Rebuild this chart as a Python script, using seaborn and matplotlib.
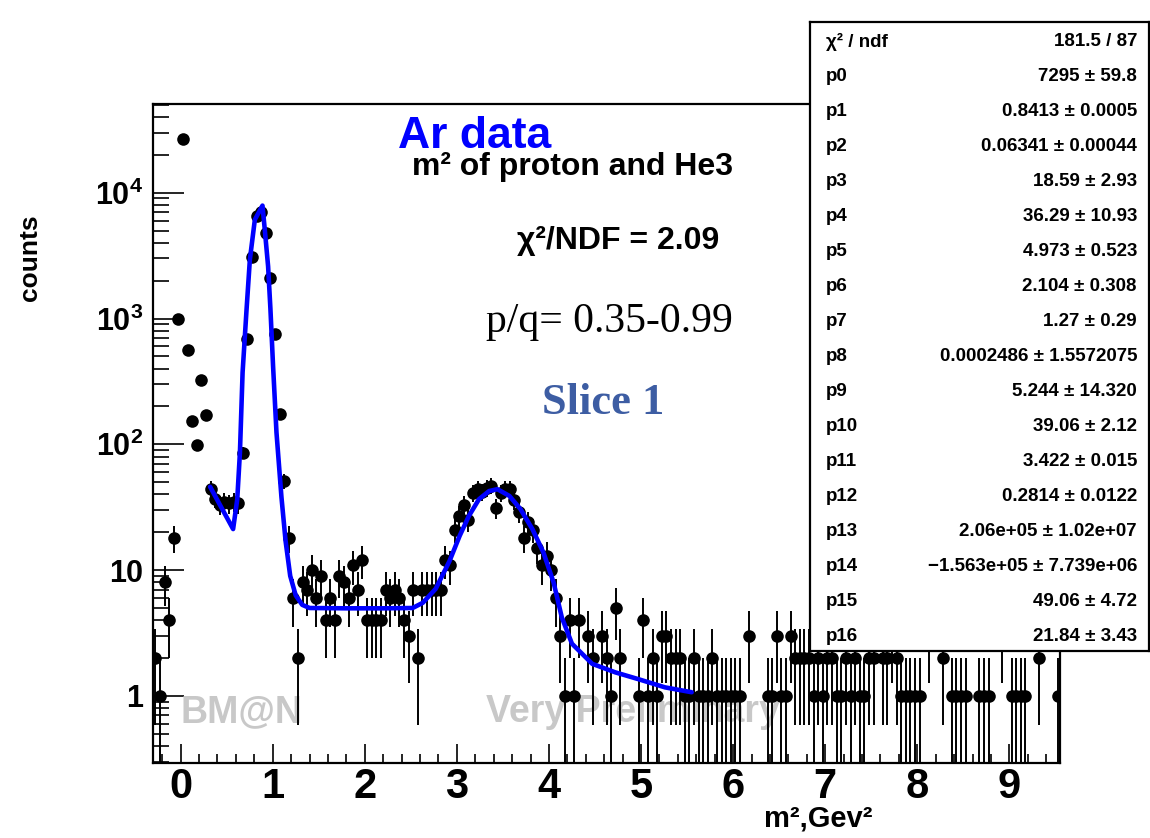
import numpy as np
import pandas as pd
import matplotlib
matplotlib.use("Agg")
import matplotlib.pyplot as plt
import seaborn as sns
from matplotlib.ticker import FixedLocator, FixedFormatter, NullFormatter

# ---------------- data ----------------
bin_start = -0.3
bin_width = 0.05
# counts per 0.05-wide bin (region by region)
counts_pion = [2, 1, 8, 4, 18, 1000, 26700, 557, 152, 98, 322, 170]           # -0.3 .. 0.3
counts_gap = [44, 37, 33, 35, 34, 35, 34]                                       # 0.3 .. 0.65
counts_proton = [86, 681, 3100, 6500, 6960, 4800, 2110, 750, 173, 51, 18, 6, 2]  # 0.65 .. 1.3
counts_mid = [8, 7, 10, 6, 9, 4, 6, 4, 9, 8, 6, 11, 7, 12, 4, 4, 4, 4, 7, 6,
              7, 6, 4, 3, 7, 2, 7, 7, 7, 7, 7, 12, 11, 21]                      # 1.3 .. 3.0
counts_he3 = [27, 33, 25, 41, 44, 42, 45, 47, 31, 41, 44, 44, 36, 29, 18, 24, 21, 15, 11, 13,
              10, 6, 3, 1, 4, 1, 4, 0, 3, 2]                                    # 3.0 .. 4.5
counts_tail = [0, 3, 2, 1, 5, 2, 0, 0, 0, 1, 4, 1, 2, 1, 3, 3, 2, 2, 2, 1,
               1, 2, 1, 1, 1, 2, 1, 1, 1, 1, 1, 1, 0, 3, 0, 0, 0, 1, 1, 3,
               1, 1, 3, 2, 2, 2, 2, 1, 2]                                       # 4.5 .. 6.95
counts_high = [1, 2, 2, 1, 1, 2, 1, 2, 1, 1, 2, 2, 0, 2, 2, 3, 2, 1, 1, 1,
               1, 1, 0, 3, 0, 0, 2, 0, 1, 1, 1, 1, 0, 0, 1, 1, 1, 0, 0, 3,
               0, 1, 1, 1, 1, 0, 0, 2, 0, 0, 0, 1]                              # 6.95 .. 9.55

# fitted curve
fit_x = [0.32, 0.57, 0.615, 0.644, 0.673, 0.716, 0.752, 0.806, 0.889, 0.914, 0.95, 0.975,
         1.004, 1.041, 1.095, 1.14, 1.19, 1.25, 1.32, 1.40, 1.8, 2.2, 2.52, 2.63, 2.77,
         2.92, 3.03, 3.13, 3.24, 3.35, 3.44, 3.57, 3.69, 3.82, 3.94, 4.05, 4.14, 4.25,
         4.47, 4.72, 4.97, 5.26, 5.55]
fit_y = [46, 21.2, 36.6, 86, 373, 1180, 2940, 6100, 7900, 5080, 2600, 1200,
         418, 124, 38, 17, 9, 6.3, 5.3, 5.0, 4.97, 4.97, 5.0, 5.5, 7.1,
         11.8, 18.7, 26.9, 36.6, 42.5, 44, 38.9, 30.6, 21.2, 13.8, 8.0, 4.2, 2.6,
         1.8, 1.54, 1.36, 1.17, 1.07]

x_ticks = [0, 1, 2, 3, 4, 5, 6, 7, 8, 9]
y_ticks = [1, 10, 100, 1000, 10000]
y_tick_labels = ["1", "10", r"$\mathbf{10^{2}}$", r"$\mathbf{10^{3}}$", r"$\mathbf{10^{4}}$"]

stat_names = ["\u03c7\u00b2 / ndf", "p0", "p1", "p2", "p3", "p4", "p5", "p6", "p7", "p8",
              "p9", "p10", "p11", "p12", "p13", "p14", "p15", "p16"]
stat_values = ["181.5 / 87", "7295 \u00b1 59.8", "0.8413 \u00b1 0.0005", "0.06341 \u00b1 0.00044",
               "18.59 \u00b1 2.93", "36.29 \u00b1 10.93", "4.973 \u00b1 0.523", "2.104 \u00b1 0.308",
               "1.27 \u00b1 0.29", "0.0002486 \u00b1 1.5572075", "5.244 \u00b1 14.320",
               "39.06 \u00b1 2.12", "3.422 \u00b1 0.015", "0.2814 \u00b1 0.0122",
               "2.06e+05 \u00b1 1.02e+07", "\u22121.563e+05 \u00b1 7.739e+06",
               "49.06 \u00b1 4.72", "21.84 \u00b1 3.43"]

# ---------------- style ----------------
sns.set_theme(style="ticks")
plt.rcParams["font.family"] = ["Liberation Sans", "DejaVu Sans"]
plt.rcParams["mathtext.fontset"] = "custom"
plt.rcParams["mathtext.rm"] = "Liberation Sans:bold"
plt.rcParams["mathtext.bf"] = "Liberation Sans:bold"
plt.rcParams["mathtext.it"] = "Liberation Sans:bold"
plt.rcParams["text.color"] = "black"
plt.rcParams["xtick.color"] = "black"
plt.rcParams["ytick.color"] = "black"
plt.rcParams["xtick.labelcolor"] = "black"
plt.rcParams["ytick.labelcolor"] = "black"

W, H = 1150, 838
fig = plt.figure(figsize=(W / 100, H / 100), dpi=100)
fig.patch.set_facecolor("white")


def fx(px):
    return px / W


def fy(py):
    return 1 - py / H


ax = fig.add_axes([fx(153), fy(763), (1060 - 153) / W, (763 - 104) / H])
ax.set_facecolor("white")

counts = counts_pion + counts_gap + counts_proton + counts_mid + counts_he3 + counts_tail + counts_high
centers = bin_start + bin_width * (np.arange(len(counts)) + 0.5)
df = pd.DataFrame({"m2": centers, "counts": counts})
df = df[df["counts"] > 0].reset_index(drop=True)

ax.set_yscale("log")
ax.errorbar(df["m2"], df["counts"], yerr=np.sqrt(df["counts"]), xerr=bin_width / 2,
            fmt="none", ecolor="black", elinewidth=1.4, capsize=0, zorder=3)
sns.scatterplot(data=df, x="m2", y="counts", ax=ax, color="black", s=82,
                marker="o", linewidth=0, zorder=4, legend=False)

fit_df = pd.DataFrame({"m2": fit_x, "f": fit_y})
sns.lineplot(data=fit_df, x="m2", y="f", ax=ax, color="#0000FF", lw=3.3,
             sort=False, estimator=None, zorder=5, legend=False)

ax.set_xlim(-0.3, 9.55)
ax.set_ylim(0.293, 50700)
ax.set_xlabel("")
ax.set_ylabel("")

ax.xaxis.set_major_locator(FixedLocator(x_ticks))
ax.xaxis.set_minor_locator(FixedLocator(list(np.round(np.arange(-0.2, 9.55, 0.2), 2))))
ax.xaxis.set_minor_formatter(NullFormatter())
ax.yaxis.set_major_locator(FixedLocator(y_ticks))
ax.yaxis.set_major_formatter(FixedFormatter(y_tick_labels))
ymin_ticks = [m * 10.0 ** e for e in range(-1, 5) for m in range(2, 10)]
ymin_ticks = [t for t in ymin_ticks if 0.293 <= t <= 50700]
ax.yaxis.set_minor_locator(FixedLocator(ymin_ticks))
ax.yaxis.set_minor_formatter(NullFormatter())

ax.tick_params(axis="both", which="both", direction="in", top=False, right=False,
               color="black", labelcolor="black", width=1.2)
ax.tick_params(axis="x", which="major", length=13.5, pad=3, labelsize=30)
ax.tick_params(axis="x", which="minor", length=6.8)
ax.tick_params(axis="y", which="major", length=22, pad=7, labelsize=22)
ax.tick_params(axis="y", which="minor", length=11.5)
for lab in ax.get_xticklabels() + ax.get_yticklabels():
    lab.set_fontweight("bold")
    lab.set_color("black")
for sp in ax.spines.values():
    sp.set_visible(True)
    sp.set_color("black")
    sp.set_linewidth(1.6)

# ---------------- texts ----------------
tf = fig.transFigure
ax.text(fx(241), fy(712), "BM@N", transform=tf, color="#C8C8C8", fontsize=27,
        fontweight="bold", ha="center", va="center", zorder=1)
ax.text(fx(633), fy(712), "Very Preliminary", transform=tf, color="#C8C8C8", fontsize=27,
        fontweight="bold", ha="center", va="center", zorder=1)
ax.text(fx(475), fy(136), "Ar data", transform=tf, color="#0000FF", fontsize=32,
        fontweight="bold", ha="center", va="center", zorder=6)
ax.text(fx(573), fy(167), "m\u00b2 of proton and He3", transform=tf, color="black",
        fontsize=23, fontweight="bold", ha="center", va="center", zorder=6)
ax.text(fx(618), fy(241), "\u03c7\u00b2/NDF = 2.09", transform=tf, color="black",
        fontsize=23, fontweight="bold", ha="center", va="center", zorder=6)
ax.text(fx(609), fy(322), "p/q= 0.35-0.99", transform=tf, color="black",
        fontsize=30, family=["Liberation Serif", "DejaVu Serif"], ha="center", va="center", zorder=6)
ax.text(fx(603), fy(403), "Slice 1", transform=tf, color="#3D5DA3",
        fontsize=32, fontweight="bold", family=["Liberation Serif", "DejaVu Serif"],
        ha="center", va="center", zorder=6)

fig.text(fx(30), fy(258), "counts", rotation=90, fontsize=19, fontweight="bold",
         ha="center", va="center", color="black")
fig.text(fx(873), fy(818), "m\u00b2,Gev\u00b2", fontsize=21, fontweight="bold",
         ha="right", va="center", color="black")

# ---------------- stats box ----------------
sax = fig.add_axes([fx(810), fy(651), (1149 - 810) / W, (651 - 22) / H], zorder=10)
sax.set_facecolor("white")
sax.set_xticks([])
sax.set_yticks([])
for sp in sax.spines.values():
    sp.set_color("black")
    sp.set_linewidth(1.6)
for i, (nm, val) in enumerate(zip(stat_names, stat_values)):
    yy = 41.7 + 35.0 * i
    sax.text(fx(826), fy(yy), nm, transform=tf, fontsize=13.5, ha="left", va="center",
             color="black", fontweight="semibold")
    sax.text(fx(1137), fy(yy), val, transform=tf, fontsize=13.5, ha="right", va="center",
             color="black", fontweight="semibold")

fig.savefig("out.png", dpi=100, facecolor="white")
